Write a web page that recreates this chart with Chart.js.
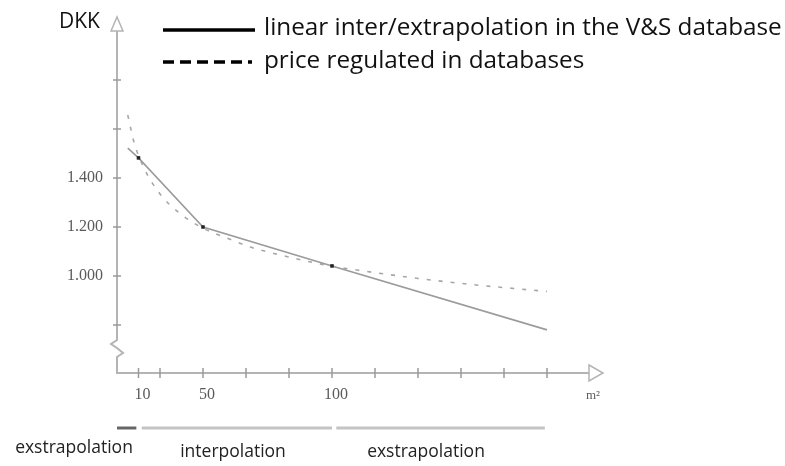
<!DOCTYPE html>
<html>
<head>
<meta charset="utf-8">
<script src="https://cdn.jsdelivr.net/npm/chart.js@4"></script>
<style>
  body { margin: 0; background: #fff; }
  #wrap { width: 785px; height: 466px; }
</style>
</head>
<body>
<div id="wrap"><canvas id="priceChart" width="785" height="466"></canvas></div>
<script>
// schematic m² axis: the sketch is not to scale, so values are axis slots
const axisTicks = [1, 2, 4, 6, 8, 10, 12, 14, 16, 18, 20];
const areaLabels = ['10', '50', '100'];
const areaAt = [1, 4, 10];

const priceTicks = [800, 1000, 1200, 1400, 1600, 1800];
const priceLabels = ['1.400', '1.200', '1.000'];
const priceLabelAt = [1400, 1200, 1000];

// linear inter/extrapolation in the V&S database
const linearX = [0.5, 1, 4, 10, 20];
const linearY = [1522, 1482, 1200, 1041, 780];
const linearMarks = [0, 1, 1, 1, 0];

// price regulated in databases
const regX = [0.5, 0.8, 1.3, 2, 2.9, 4, 5.1, 6.2, 7.4, 8.6, 10, 11.5, 14, 16.3, 18.7, 20];
const regY = [1657, 1543, 1433, 1335, 1257, 1195, 1155, 1118, 1090, 1065, 1040, 1020, 990, 967, 947, 937];

// ranges under the x axis
const rangeNames = ['exstrapolation', 'interpolation', 'exstrapolation'];
const rangeFrom = [0, 1.15, 10.2];
const rangeTo = [0.9, 10, 19.9];

const toPoints = (xs, ys) => xs.map((x, i) => ({ x: x, y: ys[i] }));

const sketchAxes = {
  id: 'sketchAxes',
  beforeDatasetsDraw(chart) {
    const ctx = chart.ctx;
    const xs = chart.scales.x, ys = chart.scales.y;
    const x0 = xs.getPixelForValue(0);
    const y0 = ys.bottom;
    ctx.save();
    ctx.strokeStyle = '#b4b4b4';
    ctx.lineWidth = 2;
    // y axis with break
    ctx.beginPath();
    ctx.moveTo(x0, 31);
    ctx.lineTo(x0, 340);
    ctx.lineTo(x0 - 6, 344);
    ctx.lineTo(x0, 348);
    ctx.lineTo(x0 + 6, 353);
    ctx.lineTo(x0, 357);
    ctx.lineTo(x0, y0);
    ctx.lineTo(589, y0);
    ctx.stroke();
    // arrow heads
    ctx.lineWidth = 1.5;
    ctx.beginPath();
    ctx.moveTo(x0 - 6, 31); ctx.lineTo(x0, 17); ctx.lineTo(x0 + 6, 31); ctx.closePath();
    ctx.moveTo(589, y0 - 8); ctx.lineTo(603, y0); ctx.lineTo(589, y0 + 8); ctx.closePath();
    ctx.stroke();
    // ticks
    ctx.strokeStyle = '#9a9a9a';
    ctx.lineWidth = 1.5;
    ctx.beginPath();
    priceTicks.forEach(v => {
      const y = ys.getPixelForValue(v);
      ctx.moveTo(x0 - 4, y); ctx.lineTo(x0 + 4, y);
    });
    axisTicks.forEach(v => {
      const x = xs.getPixelForValue(v);
      ctx.moveTo(x, y0 - 5); ctx.lineTo(x, y0 + 5);
    });
    ctx.stroke();
    // tick labels
    ctx.fillStyle = '#5a5a5a';
    ctx.font = '16px "Liberation Serif", serif';
    ctx.textAlign = 'right';
    ctx.textBaseline = 'middle';
    priceLabels.forEach((t, i) => ctx.fillText(t, 103, ys.getPixelForValue(priceLabelAt[i])));
    ctx.textAlign = 'center';
    areaLabels.forEach((t, i) => ctx.fillText(t, xs.getPixelForValue(areaAt[i]) + 4, 395));
    ctx.font = '13px "Liberation Serif", serif';
    ctx.fillText('m²', 593, 396);
    ctx.restore();
  },
  afterDraw(chart) {
    const ctx = chart.ctx;
    const xs = chart.scales.x;
    ctx.save();
    // legend
    ctx.strokeStyle = '#000';
    ctx.lineWidth = 3.5;
    ctx.beginPath(); ctx.moveTo(163, 30); ctx.lineTo(255, 30); ctx.stroke();
    ctx.setLineDash([11, 6]);
    ctx.beginPath(); ctx.moveTo(163, 62); ctx.lineTo(252, 62); ctx.stroke();
    ctx.setLineDash([]);
    ctx.fillStyle = '#111';
    ctx.font = '24.3px "Open Sans", sans-serif';
    ctx.textBaseline = 'middle';
    ctx.fillText('linear inter/extrapolation in the V&S database', 264, 28);
    ctx.fillText('price regulated in databases', 264, 61);
    ctx.font = '21px "Open Sans", sans-serif';
    ctx.fillText('DKK', 59, 22);
    // ranges
    ctx.lineWidth = 3;
    rangeNames.forEach((name, i) => {
      ctx.strokeStyle = i === 0 ? '#666' : '#c4c4c4';
      ctx.beginPath();
      ctx.moveTo(xs.getPixelForValue(rangeFrom[i]), 428);
      ctx.lineTo(xs.getPixelForValue(rangeTo[i]), 428);
      ctx.stroke();
    });
    ctx.fillStyle = '#222';
    ctx.font = '17.5px "Open Sans", sans-serif';
    ctx.textAlign = 'center';
    ctx.fillText(rangeNames[0], 74, 448);
    ctx.fillText(rangeNames[1], 233, 452);
    ctx.fillText(rangeNames[2], 426, 452);
    ctx.restore();
  }
};

const ctx = document.getElementById('priceChart').getContext('2d');
const priceChart = new Chart(ctx, {
  type: 'line',
  data: {
    datasets: [{
      label: 'linear inter/extrapolation in the V&S database',
      data: toPoints(linearX, linearY),
      borderColor: '#9b9b9b',
      borderWidth: 1.6,
      pointStyle: 'rect',
      pointRadius: linearMarks.map(m => m ? 2.5 : 0),
      pointBackgroundColor: '#222',
      pointBorderColor: '#222',
      pointBorderWidth: 0,
      tension: 0
    }, {
      label: 'price regulated in databases',
      data: toPoints(regX, regY),
      borderColor: '#a6a6a6',
      borderWidth: 1.6,
      borderDash: [4, 8],
      pointRadius: 0,
      cubicInterpolationMode: 'monotone'
    }]
  },
  options: {
    responsive: false,
    animation: false,
    clip: false,
    layout: { padding: { left: 117, right: 195, top: 31, bottom: 93 } },
    plugins: {
      legend: { display: false },
      tooltip: { enabled: false }
    },
    scales: {
      x: { type: 'linear', min: 0, max: 22, display: false },
      y: { type: 'linear', min: 604, max: 2000, display: false }
    }
  },
  plugins: [sketchAxes]
});
</script>
</body>
</html>
